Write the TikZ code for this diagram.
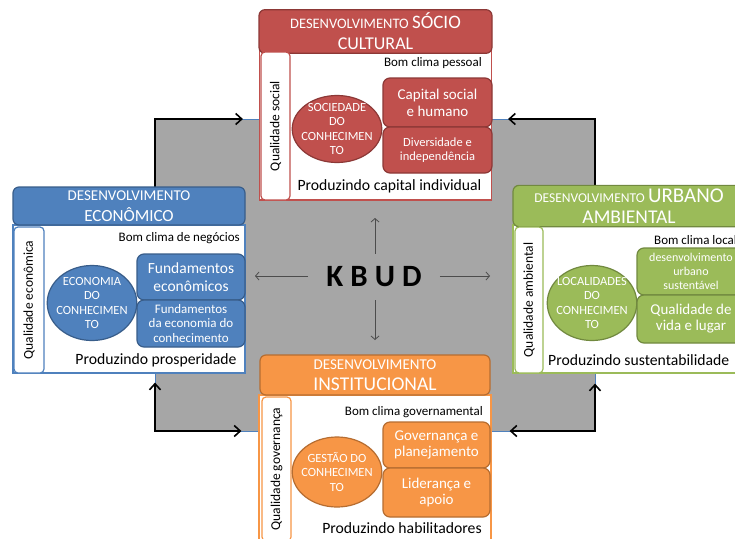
\documentclass[tikz,border=0pt]{standalone}
\usepackage{fontspec}
\setmainfont{Carlito}
\usetikzlibrary{shapes,backgrounds,positioning,arrows.meta}
\usepackage{xcolor}
\definecolor{socFill}{HTML}{C0504D}
\definecolor{socLine}{HTML}{8C3836}
\definecolor{ecoFill}{HTML}{4F81BD}
\definecolor{ecoLine}{HTML}{385D8A}
\definecolor{ambFill}{HTML}{9BBB59}
\definecolor{ambLine}{HTML}{71893F}
\definecolor{instFill}{HTML}{F79646}
\definecolor{instLine}{HTML}{B66D31}
\definecolor{groundGray}{HTML}{A6A6A6}

\begin{document}
\begin{tikzpicture}[x=1pt, y=-1pt]
            \tikzstyle{head} = [rounded corners=6pt, line width=1.2pt, text=white, minimum width=232pt, minimum height=38pt, align=center, font=\fontsize{14.5}{21}\selectfont]
            \tikzstyle{body} = [fill=white, line width=1.2pt, minimum width=232pt]
            \tikzstyle{strip} = [rounded corners=4pt, line width=1.2pt, fill=white, rotate=90, inner sep=0pt, font=\fontsize{13.5}{14}\selectfont]
            \tikzstyle{clima} = [inner sep=0pt, font=\fontsize{13}{14}\selectfont]
            \tikzstyle{core} = [ellipse, line width=1.2pt, text=white, align=center, minimum width=88pt, inner sep=-4pt, font=\fontsize{12.5}{14.5}\selectfont]
            \tikzstyle{item} = [rounded corners=7pt, line width=1.2pt, text=white, align=center, minimum width=108pt, inner sep=1pt, font=\fontsize{15}{17}\selectfont]
            \tikzstyle{prod} = [inner sep=0pt, font=\fontsize{15.7}{16}\selectfont]
            \tikzstyle{loop} = [{Straight Barb[length=6pt, width=11pt]}-{Straight Barb[length=6pt, width=11pt]}, line width=1.6pt, draw=black]
            \tikzstyle{spoke} = [-{Straight Barb[length=3.5pt, width=8pt]}, line width=0.8pt, draw=black!70]
            \useasboundingbox (0, 0) rectangle (735, 538);
            \node[draw=ecoFill, fill=groundGray, line width=0.8pt, minimum width=440pt, minimum height=312pt, inner sep=0pt] (ground) at (375, 275) {};
            \coordinate (tl) at (155, 119);
            \coordinate (tr) at (595, 119);
            \coordinate (bl) at (155, 431);
            \coordinate (br) at (595, 431);
            \node[body, draw=socFill, minimum height=150pt] (socBody) at (375.5, 125) {};
            \node[body, draw=ecoFill, minimum height=148pt] (ecoBody) at (129, 299) {};
            \node[body, draw=ambFill, minimum height=148pt] (ambBody) at (629, 299) {};
            \node[body, draw=instFill, minimum height=170pt] (instBody) at (375, 480) {};
            \draw[loop, shorten <=16pt, shorten >=6pt] (tl -| socBody.west) -- (tl) -- (tl |- ecoBody.north);
            \draw[loop, shorten <=16pt, shorten >=9pt] (tr -| socBody.east) -- (tr) -- (tr |- ambBody.north);
            \draw[loop, shorten <=9pt, shorten >=17pt] (bl |- ecoBody.south) -- (bl) -- (bl -| instBody.west);
            \draw[loop, shorten <=10pt, shorten >=18pt] (br |- ambBody.south) -- (br) -- (br -| instBody.east);
            \node[head, fill=socFill, draw=socLine, minimum width=233pt, minimum height=37pt] (socHead) at (375.5, 31.5) {DESENVOLVIMENTO {\fontsize{19}{21}\selectfont SÓCIO}\\{\fontsize{18}{21}\selectfont CULTURAL}};
            \node[strip, draw=socFill, minimum width=148pt, minimum height=29pt] (socStrip) at (275.5, 126) {Qualidade social};
            \node[clima, anchor=east] (socClima) at (482, 63) {Bom clima pessoal};
            \node[core, fill=socFill, draw=socLine, minimum height=67pt] (socCore) at (337, 129) {SOCIEDADE\\DO\\CONHECIMEN\\TO};
            \node[item, fill=socFill, draw=socLine, minimum width=109pt, minimum height=49pt] (socCap) at (437.5, 102.5) {Capital social\\e humano};
            \node[item, fill=socFill, draw=socLine, minimum width=109pt, minimum height=46pt, font=\fontsize{12.5}{14.5}\selectfont] (socDiv) at (437.5, 150) {Diversidade e\\independência};
            \node[prod] (socProd) at (389.5, 186) {Produzindo capital individual};
            \node[head, fill=ecoFill, draw=ecoLine] (ecoHead) at (129, 206) {{\fontsize{15}{22}\selectfont DESENVOLVIMENTO}\\{\fontsize{17}{22}\selectfont ECONÔMICO}};
            \node[strip, draw=ecoFill, minimum width=146pt, minimum height=30pt] (ecoStrip) at (29, 300) {Qualidade econômica};
            \node[clima, anchor=east] (ecoClima) at (240, 238) {Bom clima de negócios};
            \node[core, fill=ecoFill, draw=ecoLine, minimum height=75pt] (ecoCore) at (92, 303) {ECONOMIA\\DO\\CONHECIMEN\\TO};
            \node[item, fill=ecoFill, draw=ecoLine, minimum height=46pt, font=\fontsize{15.5}{17.5}\selectfont] (ecoFund) at (191, 277) {Fundamentos\\econômicos};
            \node[item, fill=ecoFill, draw=ecoLine, minimum height=47pt, font=\fontsize{13}{14.2}\selectfont] (ecoKnow) at (191, 323.5) {Fundamentos\\da economia do\\conhecimento};
            \node[prod] (ecoProd) at (156, 360) {Produzindo prosperidade};
            \node[head, fill=ambFill, draw=ambLine] (ambHead) at (629, 206) {{\fontsize{13.5}{22}\selectfont DESENVOLVIMENTO} {\fontsize{21}{22}\selectfont URBANO}\\{\fontsize{19.5}{22}\selectfont AMBIENTAL}};
            \node[strip, draw=ambFill, minimum width=146pt, minimum height=28pt] (ambStrip) at (529, 300) {Qualidade ambiental};
            \node[clima, anchor=west] (ambClima) at (654, 240) {Bom clima local};
            \node[core, fill=ambFill, draw=ambLine, minimum height=75pt] (ambCore) at (592, 303) {LOCALIDADES\\DO\\CONHECIMEN\\TO};
            \node[item, fill=ambFill, draw=ambLine, minimum height=47pt, font=\fontsize{12}{13.7}\selectfont] (ambSus) at (691, 271.5) {desenvolvimento\\urbano\\sustentável};
            \node[item, fill=ambFill, draw=ambLine, minimum height=48pt, font=\fontsize{15}{16}\selectfont] (ambLife) at (691, 319) {Qualidade de\\vida e lugar};
            \node[prod, anchor=west] (ambProd) at (548, 360) {Produzindo sustentabilidade};
            \node[head, fill=instFill, draw=instLine, minimum width=230pt, minimum height=40pt] (instHead) at (375, 375) {{\fontsize{15}{22}\selectfont DESENVOLVIMENTO}\\{\fontsize{19.5}{22}\selectfont INSTITUCIONAL}};
            \node[strip, draw=instFill, minimum width=144pt, minimum height=29pt] (instStrip) at (276.5, 469) {Qualidade governança};
            \node[clima, anchor=east] (instClima) at (483, 412) {Bom clima governamental};
            \node[core, fill=instFill, draw=instLine, minimum height=70pt] (instCore) at (337, 472) {GESTÃO DO\\CONHECIMEN\\TO};
            \node[item, fill=instFill, draw=instLine, minimum width=107pt, minimum height=46pt, font=\fontsize{15}{16.7}\selectfont] (instGov) at (436.5, 445) {Governança e\\planejamento};
            \node[item, fill=instFill, draw=instLine, minimum width=107pt, minimum height=49pt, font=\fontsize{15}{16.7}\selectfont] (instLid) at (436.5, 492.5) {Liderança e\\apoio};
            \node[prod] (instProd) at (402, 528) {Produzindo habilitadores};
            \node[font=\fontsize{31}{31}\selectfont\bfseries, inner xsep=18pt, inner ysep=13pt] (kbud) at (374, 277) {K B U D};
            \coordinate (kUp) at (375, 218);
            \coordinate (kDown) at (375, 340);
            \coordinate (kLeft) at (255, 276);
            \coordinate (kRight) at (490, 276);
            \draw[spoke] (kbud.north -| kUp) -- (kUp);
            \draw[spoke] (kbud.south -| kDown) -- (kDown);
            \draw[spoke] (kbud.west |- kLeft) -- (kLeft);
            \draw[spoke] (kbud.east |- kRight) -- (kRight);
        \end{tikzpicture}
\end{document}
